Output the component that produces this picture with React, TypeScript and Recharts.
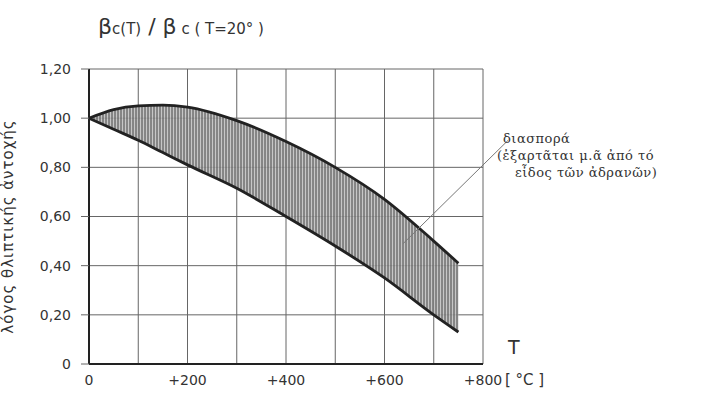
import React from 'react';
import {
  ComposedChart,
  Area,
  Line,
  XAxis,
  YAxis,
  CartesianGrid,
  ReferenceLine,
} from 'recharts';

// temperature in °C
const temps = [0, 50, 100, 150, 200, 300, 400, 500, 600, 700, 750];
// lower / upper bound of the strength ratio band
const lowerRatio = [1.0, 0.955, 0.91, 0.86, 0.81, 0.715, 0.6, 0.48, 0.35, 0.2, 0.13];
const upperRatio = [1.0, 1.035, 1.05, 1.053, 1.045, 0.99, 0.905, 0.8, 0.67, 0.5, 0.41];

const xTicks = [0, 100, 200, 300, 400, 500, 600, 700, 800];
const yTicks = [0, 0.2, 0.4, 0.6, 0.8, 1.0, 1.2];

// leader line from the band to the note
const leaderT = [638, 851];
const leaderRatio = [0.49, 0.91];

const W = 706;
const H = 397;
const INK = '#222';
const GRID = '#666';

const chartData = temps.map((t, i) => ({
  t,
  low: lowerRatio[i],
  high: upperRatio[i],
  band: [lowerRatio[i], upperRatio[i]],
}));

const sans = '"DejaVu Sans", sans-serif';
const serif = '"DejaVu Serif", serif';

function XTick(props: any) {
  const { x, y, payload } = props;
  const v = payload.value as number;
  if (v % 200 !== 0) return null;
  const label = v === 0 ? '0' : `+${v}`;
  return (
    <g>
      <text x={x} y={y + 13} textAnchor="middle" fontFamily={sans} fontSize={14} fill="#333">
        {label}
      </text>
      {v === 800 && (
        <text x={x + 22} y={y + 13} textAnchor="start" fontFamily={sans} fontSize={15} fill="#333">
          [ °C ]
        </text>
      )}
    </g>
  );
}

export default function App() {
  return (
    <div
      style={{
        position: 'absolute',
        left: 0,
        top: 0,
        width: W,
        height: H,
        background: '#fff',
        overflow: 'hidden',
      }}
    >
      <ComposedChart
        width={W}
        height={H}
        data={chartData}
        margin={{ top: 69, right: 223, bottom: 0, left: 0 }}
      >
        <defs>
          <pattern id="vhatch" width="3" height="6" patternUnits="userSpaceOnUse">
            <rect x="0" y="0" width="3" height="6" fill="#bdbdbd" fillOpacity={0.85} />
            <line x1="1" y1="0" x2="1" y2="6" stroke="#444" strokeWidth={1} />
          </pattern>
        </defs>
        <CartesianGrid stroke={GRID} strokeWidth={1} vertical horizontal />
        <XAxis
          dataKey="t"
          type="number"
          domain={[0, 800]}
          ticks={xTicks}
          height={33}
          axisLine={{ stroke: INK, strokeWidth: 2 }}
          tickLine={false}
          tick={<XTick />}
          allowDataOverflow
        />
        <YAxis
          type="number"
          domain={[0, 1.2]}
          ticks={yTicks}
          width={89}
          tickSize={8}
          tickMargin={10}
          axisLine={{ stroke: INK, strokeWidth: 2 }}
          tickLine={{ stroke: GRID }}
          tick={{ fontFamily: sans, fontSize: 14, fill: '#333' }}
          tickFormatter={(v: number) => (v === 0 ? '0' : v.toFixed(2).replace('.', ','))}
          label={{
            value: 'λόγος θλιπτικής ἀντοχής',
            angle: -90,
            position: 'insideLeft',
            offset: 8,
            dy: 10,
            style: {
              fontFamily: sans,
              fontSize: 15,
              fill: '#333',
              textAnchor: 'middle',
              letterSpacing: 1,
            },
          }}
        />
        <Area
          type="monotone"
          dataKey="band"
          stroke="none"
          fill="url(#vhatch)"
          fillOpacity={1}
          isAnimationActive={false}
        />
        <Line
          type="monotone"
          dataKey="high"
          stroke={INK}
          strokeWidth={2.8}
          dot={false}
          isAnimationActive={false}
        />
        <Line
          type="monotone"
          dataKey="low"
          stroke={INK}
          strokeWidth={2.8}
          dot={false}
          isAnimationActive={false}
        />
        <ReferenceLine
          segment={[
            { x: leaderT[0], y: leaderRatio[0] },
            { x: leaderT[1], y: leaderRatio[1] },
          ]}
          stroke="#777"
          strokeWidth={1}
          ifOverflow="visible"
        />
      </ComposedChart>

      {/* ratio title */}
      <div
        style={{
          position: 'absolute',
          left: 98,
          top: 14,
          fontFamily: sans,
          fontSize: 22,
          color: '#333',
          whiteSpace: 'nowrap',
        }}
      >
        β<span style={{ fontSize: 15 }}>c(T)</span> / β
        <span style={{ fontSize: 15 }}> c ( T=20° )</span>
      </div>

      {/* T axis symbol */}
      <div
        style={{
          position: 'absolute',
          left: 508,
          top: 336,
          fontFamily: sans,
          fontSize: 19,
          color: '#333',
        }}
      >
        T
      </div>

      {/* scatter note */}
      <div
        style={{
          position: 'absolute',
          left: 497,
          top: 130,
          fontFamily: serif,
          fontSize: 13,
          letterSpacing: 0.5,
          lineHeight: '17px',
          color: '#333',
          whiteSpace: 'nowrap',
        }}
      >
        <div style={{ paddingLeft: 6 }}>διασπορά</div>
        <div>(ἐξαρτᾶται μ.ᾶ ἀπό τό</div>
        <div style={{ paddingLeft: 18 }}>εἶδος τῶν ἀδρανῶν)</div>
      </div>
    </div>
  );
}
